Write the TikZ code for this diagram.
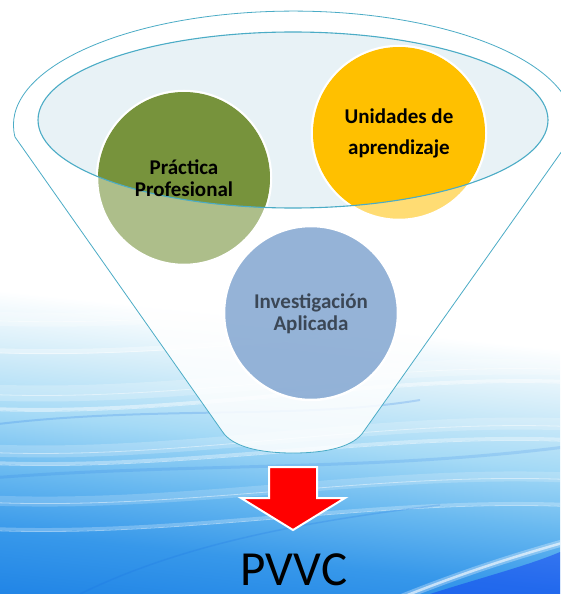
\documentclass[tikz,border=0pt]{standalone}
\usepackage{fontspec}
\setmainfont{Carlito}
\definecolor{embudo}{RGB}{75,172,198}
\definecolor{elipse}{RGB}{232,242,246}
\definecolor{verde}{RGB}{119,147,60}
\definecolor{naranja}{RGB}{255,192,0}
\definecolor{azul}{RGB}{79,129,189}
\definecolor{agua0}{RGB}{22,108,226}
\definecolor{agua1}{RGB}{32,132,230}
\definecolor{agua2}{RGB}{55,152,234}
\definecolor{agua3}{RGB}{105,185,240}
\definecolor{agua4}{RGB}{165,218,246}
\definecolor{agua5}{RGB}{212,237,249}
\pgfdeclareverticalshading{agua}{100bp}{color(0bp)=(agua0); color(25bp)=(agua0); color(31.6bp)=(agua1); color(35.6bp)=(agua2); color(39.4bp)=(agua3); color(43.1bp)=(agua4); color(46.9bp)=(agua5); color(50.6bp)=(white); color(100bp)=(white)}

\begin{document}
\begin{tikzpicture}[x=1pt, y=-1pt,
    circulo/.style={circle, minimum size=174pt, inner sep=0pt, align=center, font=\fontsize{21}{22}\selectfont\bfseries},
    borde/.style={draw=white, line width=2.5pt},
    ola/.style={white, line cap=round}]
    \useasboundingbox (0,0) rectangle (560,594);

    % 背景
    \begin{scope}
        \clip (0,0) rectangle (560,594);
        \begin{scope}[transform canvas={rotate around={-6:(0,300)}}]
            \shade[shading=agua] (-200,-100) rectangle (800,700);
        \end{scope}
        \foreach \ya/\yb/\w/\o in {318/300/14/0.25, 350/330/5/0.35, 392/368/16/0.22, 408/382/3/0.45, 450/425/12/0.2, 462/440/3/0.35, 500/478/10/0.18, 528/505/3/0.25}
        {
            \draw[ola, line width=\w pt, opacity=\o] (-20,\ya) .. controls (180,\ya+10) and (380,\yb-10) .. (580,\yb);
            \draw[ola, line width=0.8pt, opacity=0.45] (-20,\ya+2) .. controls (180,\ya+12) and (380,\yb-8) .. (580,\yb+2);
        }
        \draw[agua0, opacity=0.2, line width=2pt] (-10,425) .. controls (150,405) and (300,420) .. (420,400);
        \draw[agua0, opacity=0.15, line width=3pt] (-10,478) .. controls (200,462) and (380,472) .. (580,445);
        \draw[agua0, opacity=0.2, line width=1.5pt] (80,594) .. controls (180,545) and (300,522) .. (440,505);
        \fill[blue!55!agua0, opacity=0.45] (430,594) .. controls (480,578) and (530,565) .. (560,552) -- (560,594) -- cycle;
        \draw[ola, line width=7pt, opacity=0.3] (395,600) .. controls (450,578) and (500,560) .. (580,538);
        \draw[ola, line width=2.5pt, opacity=0.6] (395,600) .. controls (450,578) and (500,560) .. (580,538);
    \end{scope}

    % 漏斗
    \coordinate (cima) at (15,137);
    \fill[white, opacity=0.85] (cima) arc[start angle=174, end angle=366, x radius=280, y radius=114]
        -- (364,431) .. controls (354,447) and (326,453) .. (293,453)
        .. controls (260,453) and (232,447) .. (222,431) -- cycle;
    \fill[elipse] (293,120) ellipse [x radius=255, y radius=88];

    % 圆
    \coordinate (cPract) at (184,178);
    \coordinate (cUnid) at (399,133);
    \coordinate (cInv) at (311,313);
    \filldraw[borde, fill=verde, fill opacity=0.6] (cPract) circle (87);
    \filldraw[borde, fill=naranja, fill opacity=0.55] (cUnid) circle (87);
    \filldraw[borde, fill=azul, fill opacity=0.6] (cInv) circle (87);
    \begin{scope}
        \clip (293,120) ellipse [x radius=255, y radius=88];
        \fill[verde] (cPract) circle (86);
        \fill[naranja] (cUnid) circle (86);
    \end{scope}

    % 轮廓
    \draw[embudo, line width=0.8pt] (cima) arc[start angle=174, end angle=366, x radius=280, y radius=114]
        -- (364,431) .. controls (354,447) and (326,453) .. (293,453)
        .. controls (260,453) and (232,447) .. (222,431) -- cycle;
    \draw[embudo, line width=1.1pt] (293,120) ellipse [x radius=255, y radius=88];

    % 文字
    \node[circulo] (pract) at (cPract) {Práctica\\Profesional};
    \node[circulo, font=\fontsize{21}{31}\selectfont\bfseries] (unid) at (cUnid) {Unidades de\\aprendizaje};
    \node[circulo, text opacity=0.6] (invest) at ([yshift=-1pt]cInv) {Investigación\\Aplicada};

    % 箭头
    \coordinate (flecha) at (293,467);
    \filldraw[fill=red, draw=white, line width=2pt] (flecha) ++(-24,0) -- ++(48,0) -- ++(0,31) -- ++(28,0)
        -- ++(-52,32) -- ++(-52,-32) -- ++(28,0) -- cycle;
    \node[font=\fontsize{49}{49}\selectfont, anchor=base, inner sep=0pt] (pvvc) at (294,585) {PVVC};
\end{tikzpicture}
\end{document}
